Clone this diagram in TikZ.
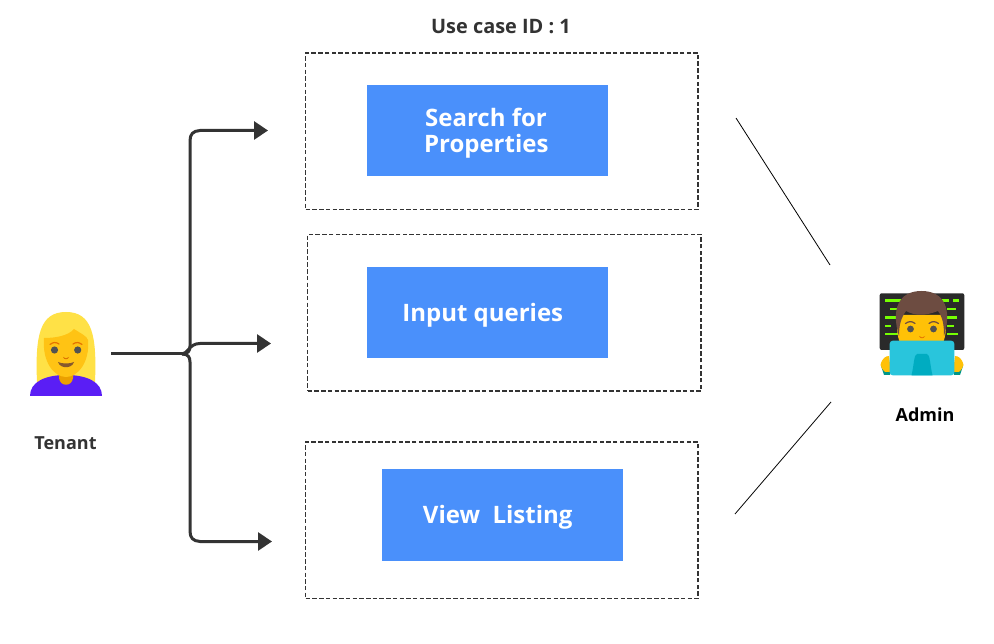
\documentclass[tikz,border=0pt]{standalone}
\usepackage{fontspec}
\setmainfont{Open Sans}
\usetikzlibrary{arrows.meta}
\definecolor{ink}{HTML}{333333}
\definecolor{bluebox}{HTML}{4A90FB}
\newcommand\lowtext[1]{\raisebox{-2.5pt}[\height][\depth]{#1}}
\tikzset{
  dashbox/.style={draw=ink,line width=1.5pt,outer sep=0pt,dash pattern=on 4.5pt off 2.2pt,minimum width=#1,minimum height=156.5pt,inner sep=0pt,anchor=north west},
  dashbox/.default=392.5pt,
  usecase/.style={fill=bluebox,text=white,minimum width=240.5pt,minimum height=91.5pt,inner sep=0pt,outer sep=0pt,anchor=north west,align=center,font=\fontsize{24}{26}\selectfont\bfseries},
  caption/.style={font=\fontsize{#1}{16}\selectfont\bfseries,inner sep=0pt},
  flow/.style={draw=ink,line width=3pt},
  flowarrow/.style={flow,-{Triangle[length=14pt,width=18pt]}},
  thin link/.style={draw=black,line width=0.8pt}
}
\begin{document}
\begin{tikzpicture}[x=1pt,y=-1pt]
\useasboundingbox (0,0) rectangle (994,644);
\fill[white] (0,0) rectangle (994,644);
% boxes
\node[dashbox] (b1) at (305.7,53) {};
\node[dashbox=393.5pt] (b2) at (307.7,234.5) {};
\node[dashbox] (b3) at (305.7,442) {};
\node[usecase] (s) at (367,85) {\lowtext{\hspace*{-2.5pt}Search for}\\\lowtext{\hspace*{-2pt}Properties}};
\node[usecase] (i) at (367,267) {\lowtext{\hspace*{-9pt}Input queries}};
\node[usecase] (v) at (382,469) {\lowtext{\hspace*{-9pt}View\ \ Listing}};
\node[caption=19.9,text=ink] (title) at (501,27) {Use case ID : 1};
\node[caption=18,text=ink] (tenant) at (65.5,443) {Tenant};
\node[caption=18,text=black] (admin) at (925,414.5) {Admin};
% connectors
\coordinate (start) at (111,354);
\coordinate (j) at (182,354);
\coordinate (ja) at (190,346);
\coordinate (jb) at (190,362);
\coordinate (t1) at (268,130.5);
\coordinate (t2) at (271,343.5);
\coordinate (t3) at (272,541.5);
\draw[flow] (start) -- (j);
\draw[flowarrow] (j) .. controls (188,354) and (190,351) .. (ja) -- (190,141) .. controls (190,134) and (193,131) .. (200,130.5) -- (t1);
\draw[flowarrow] (j) .. controls (188,354) and (189,343.5) .. (200,343.5) -- (t2);
\draw[flowarrow] (j) .. controls (188,354) and (190,357) .. (jb) -- (190,531) .. controls (190,538) and (193,541) .. (200,541.5) -- (t3);
\coordinate (l1a) at (736,118);
\coordinate (l1b) at (830,265);
\coordinate (l2a) at (831,402);
\coordinate (l2b) at (735,514);
\draw[thin link] (l1a) -- (l1b);
\draw[thin link] (l2a) -- (l2b);
% tenant emoji
\begin{scope}
\fill[color={rgb,255:red,255;green,225;blue,70}] (37,382) .. controls (35,335) and (40,312) .. (66,312) .. controls (92,312) and (97,335) .. (95,382) -- cycle;
\fill[color={rgb,255:red,90;green,30;blue,245}] (30,396) .. controls (30,382) and (45,375) .. (66,375) .. controls (87,375) and (102,382) .. (102,396) -- cycle;
\fill[color={rgb,255:red,235;green,160;blue,0}] (59,370) -- (73,370) -- (73,378) .. controls (72,387) and (60,387) .. (59,378) -- cycle;
\fill[color={rgb,255:red,255;green,195;blue,20}] (44,338) .. controls (55,338) and (68,336) .. (74,329) .. controls (80,333) and (87,336) .. (88,340) .. controls (90,362) and (78,377) .. (66,377) .. controls (54,377) and (42,362) .. (44,338) -- cycle;
\fill[ink!85] (54.5,350) circle (3.6);
\fill[ink!85] (77.7,350) circle (3.6);
\draw[orange!90!black,line width=1.2pt,line cap=round] (50,344.5) .. controls (53,342) and (56,342) .. (59,344);
\draw[orange!90!black,line width=1.2pt,line cap=round] (73,344) .. controls (76,342) and (79,342) .. (82,344.5);
\fill[orange!85!black] (63,357) .. controls (65,359) and (67,359) .. (69,357) .. controls (68,360) and (64,360) .. (63,357) -- cycle;
\fill[brown!70!black] (58,362) .. controls (62,364) and (70,364) .. (74,362) .. controls (72,369) and (60,369) .. (58,362) -- cycle;
\end{scope}
% admin emoji
\begin{scope}
\fill[color={rgb,255:red,42;green,42;blue,42},rounded corners=2pt] (879.7,293.3) rectangle (964.3,350);
\foreach \xa/\xb/\yy in {885/901/300.5,890/897/309,885/896/317.5,885/891/326,885/898/334,
  942/949/300.5,953/959/300.5,947/956/309,945/957/317.5,947/954/326,947/958/334}
  \draw[color={rgb,255:red,118;green,255;blue,3},line width=2.4pt] (\xa,\yy) -- (\xb,\yy);
\fill[color={rgb,255:red,255;green,193;blue,7}] (897,325) .. controls (897,350) and (908,352) .. (921.5,352) .. controls (935,352) and (946,350) .. (946,325) -- (946,315) -- (897,315) -- cycle;
\fill[color={rgb,255:red,109;green,76;blue,65}] (899,336) .. controls (891,310) and (898,291) .. (921.5,291) .. controls (945,291) and (952,310) .. (944,336) .. controls (944,325) and (943,318) .. (938,311) .. controls (925,316) and (915,316) .. (906,311) .. controls (901,318) and (899,325) .. (899,336) -- cycle;
\fill[ink!85] (910.5,329) circle (3.4);
\fill[ink!85] (933.5,329) circle (3.4);
\draw[color={rgb,255:red,109;green,76;blue,65},line width=1.2pt,line cap=round] (905.5,323.5) .. controls (909,321) and (912,321) .. (915,323.5);
\draw[color={rgb,255:red,109;green,76;blue,65},line width=1.2pt,line cap=round] (929,323.5) .. controls (932,321) and (935,321) .. (938.5,323.5);
\fill[orange!90!black] (919,336) .. controls (921,338) and (923,338) .. (925,336) .. controls (924,339) and (920,339) .. (919,336) -- cycle;
\fill[color={rgb,255:red,0;green,150;blue,136}] (881,366) -- (890,364) -- (890,375) -- (884,375) -- cycle;
\fill[color={rgb,255:red,0;green,150;blue,136}] (963,366) -- (954,364) -- (954,375) -- (960,375) -- cycle;
\fill[color={rgb,255:red,255;green,193;blue,7}] (880.5,365) .. controls (882,358) and (886,356) .. (889,356) -- (891,372) -- (885,372) .. controls (883,370) and (881,368) .. (880.5,365) -- cycle;
\fill[color={rgb,255:red,255;green,193;blue,7}] (963.5,365) .. controls (962,358) and (958,356) .. (955,356) -- (953,372) -- (959,372) .. controls (961,370) and (963,368) .. (963.5,365) -- cycle;
\fill[color={rgb,255:red,41;green,197;blue,220},rounded corners=3pt] (889.7,375.3) -- (889.7,340.7) -- (954.3,340.7) -- (954.3,375.3) -- cycle;
\fill[color={rgb,255:red,0;green,172;blue,193}] (911.5,375.3) .. controls (914,365) and (914,354) .. (917,354) -- (927,354) .. controls (930,354) and (930,365) .. (932.5,375.3) -- cycle;
\end{scope}
\end{tikzpicture}
\end{document}
